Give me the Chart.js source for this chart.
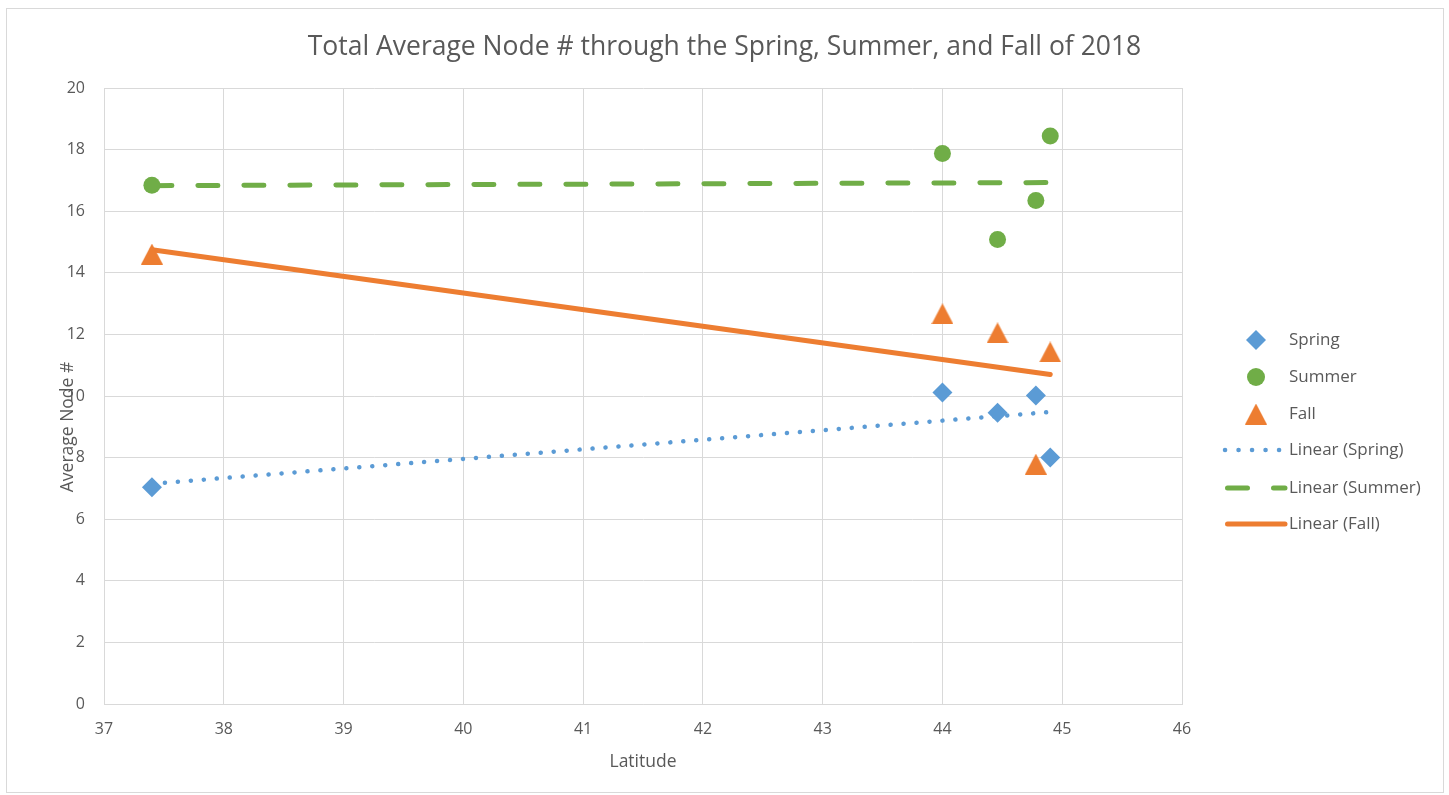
<!DOCTYPE html>
<html>
<head>
<meta charset="utf-8">
<title>Total Average Node #</title>
<script src="https://cdn.jsdelivr.net/npm/chart.js@4/dist/chart.umd.min.js"></script>
<style>
  html, body { margin: 0; padding: 0; background: #ffffff; }
  #wrap { width: 1449px; height: 795px; }
</style>
</head>
<body>
<div id="wrap"><canvas id="chart" width="1449" height="795"></canvas></div>
<script>
// Observations by latitude
const springLat   = [37.4, 44.0, 44.46, 44.78, 44.9];
const springNodes = [7.04, 10.11, 9.46, 10.02, 8.0];
const summerLat   = [37.4, 44.0, 44.46, 44.78, 44.9];
const summerNodes = [16.84, 17.87, 15.08, 16.35, 18.44];
const fallLat     = [37.4, 44.0, 44.46, 44.78, 44.9];
const fallNodes   = [14.61, 12.67, 12.05, 7.79, 11.43];

// Linear trendline end points
const trendLat    = [37.4, 44.9];
const springTrend = [7.15, 9.48];
const summerTrend = [16.83, 16.93];
const fallTrend   = [14.75, 10.70];

// Axis ticks
const xTickValues = [37, 38, 39, 40, 41, 42, 43, 44, 45, 46];
const yTickValues = [0, 2, 4, 6, 8, 10, 12, 14, 16, 18, 20];

const chartTitle = 'Total Average Node # through the Spring, Summer, and Fall of 2018';
const xTitle = 'Latitude';
const yTitle = 'Average Node #';
const legendLabels = ['Spring', 'Summer', 'Fall', 'Linear (Spring)', 'Linear (Summer)', 'Linear (Fall)'];

const BLUE = '#5B9BD5';
const GREEN = '#70AD47';
const ORANGE = '#ED7D31';
const TEXT = '#595959';
const GRID = '#d9d9d9';
const FONT = '"Open Sans", "Noto Sans", sans-serif';

function pairs(xs, ys) { return xs.map((x, i) => ({ x: x, y: ys[i] })); }

// Triangle marker centred on its bounding box
function triangleImage(w, h, color) {
  const c = document.createElement('canvas');
  c.width = w; c.height = h;
  const g = c.getContext('2d');
  g.fillStyle = color;
  g.beginPath();
  g.moveTo(w / 2, 0);
  g.lineTo(w, h);
  g.lineTo(0, h);
  g.closePath();
  g.fill();
  return c;
}
const triMarker = triangleImage(22, 21, ORANGE);

const textPlugin = {
  id: 'chartText',
  afterDraw(chart) {
    const ctx = chart.ctx;
    ctx.save();
    // outer frame
    ctx.strokeStyle = GRID;
    ctx.lineWidth = 1;
    ctx.strokeRect(6.5, 8.5, 1437, 784);

    ctx.fillStyle = TEXT;
    ctx.textAlign = 'center';
    ctx.textBaseline = 'alphabetic';
    ctx.font = '26.5px ' + FONT;
    ctx.fillText(chartTitle, chart.width / 2, 55);

    const area = chart.chartArea;
    ctx.font = '17.5px ' + FONT;
    ctx.textBaseline = 'middle';
    ctx.fillText(xTitle, (area.left + area.right) / 2, 762);

    ctx.save();
    ctx.translate(68, 427);
    ctx.rotate(-Math.PI / 2);
    ctx.fillText(yTitle, 0, 0);
    ctx.restore();

    // legend
    const lx = 1256, tx = 1289;
    const rows = [340, 377, 414, 450, 488, 524];
    ctx.textAlign = 'left';
    ctx.font = '17px ' + FONT;
    legendLabels.forEach((lab, i) => {
      ctx.fillStyle = TEXT;
      ctx.fillText(lab, tx, rows[i]);
    });
    // spring diamond
    ctx.fillStyle = BLUE;
    ctx.beginPath();
    ctx.moveTo(lx, rows[0] - 10); ctx.lineTo(lx + 10, rows[0]);
    ctx.lineTo(lx, rows[0] + 10); ctx.lineTo(lx - 10, rows[0]);
    ctx.closePath(); ctx.fill();
    // summer circle
    ctx.fillStyle = GREEN;
    ctx.beginPath(); ctx.arc(lx, rows[1], 9, 0, Math.PI * 2); ctx.fill();
    // fall triangle
    ctx.drawImage(triMarker, lx - 11, rows[2] - 10.5);
    // trend samples
    ctx.lineCap = 'round';
    ctx.strokeStyle = BLUE; ctx.lineWidth = 4.5; ctx.setLineDash([0.1, 13.4]);
    ctx.beginPath(); ctx.moveTo(1225, rows[3]); ctx.lineTo(1280, rows[3]); ctx.stroke();
    ctx.strokeStyle = GREEN; ctx.lineWidth = 5; ctx.setLineDash([20, 26]);
    ctx.beginPath(); ctx.moveTo(1227.5, rows[4]); ctx.lineTo(1285, rows[4]); ctx.stroke();
    ctx.strokeStyle = ORANGE; ctx.lineWidth = 5; ctx.setLineDash([]);
    ctx.beginPath(); ctx.moveTo(1227.5, rows[5]); ctx.lineTo(1285, rows[5]); ctx.stroke();
    ctx.restore();
  }
};

new Chart(document.getElementById('chart'), {
  type: 'scatter',
  data: {
    datasets: [
      {
        label: 'Linear (Spring)', type: 'line', data: pairs(trendLat, springTrend),
        borderColor: BLUE, borderWidth: 4.5, borderDash: [0.1, 12.9], borderCapStyle: 'round',
        pointRadius: 0, fill: false, order: 2
      },
      {
        label: 'Linear (Summer)', type: 'line', data: pairs(trendLat, summerTrend),
        borderColor: GREEN, borderWidth: 5, borderDash: [20, 26], borderCapStyle: 'round',
        pointRadius: 0, fill: false, order: 2
      },
      {
        label: 'Linear (Fall)', type: 'line', data: pairs(trendLat, fallTrend),
        borderColor: ORANGE, borderWidth: 5, borderCapStyle: 'round',
        pointRadius: 0, fill: false, order: 2
      },
      {
        label: 'Spring', data: pairs(springLat, springNodes),
        pointStyle: 'rectRot', pointRadius: 10, pointHoverRadius: 10,
        backgroundColor: BLUE, borderColor: BLUE, borderWidth: 0, order: 1
      },
      {
        label: 'Summer', data: pairs(summerLat, summerNodes),
        pointStyle: 'circle', pointRadius: 8.5, pointHoverRadius: 8.5,
        backgroundColor: GREEN, borderColor: GREEN, borderWidth: 0, order: 1
      },
      {
        label: 'Fall', data: pairs(fallLat, fallNodes),
        pointStyle: triMarker, pointRadius: 11,
        backgroundColor: ORANGE, borderColor: ORANGE, borderWidth: 0, order: 1
      }
    ]
  },
  options: {
    responsive: false,
    animation: false,
    devicePixelRatio: 1,
    layout: { padding: { left: 44, right: 267, top: 88, bottom: 51 } },
    plugins: {
      legend: { display: false },
      title: { display: false },
      tooltip: { enabled: false }
    },
    scales: {
      x: {
        type: 'linear', min: 37, max: 46,
        afterBuildTicks: s => { s.ticks = xTickValues.map(v => ({ value: v })); },
        afterFit: s => { s.height = 40; },
        grid: { color: GRID, lineWidth: 1, drawTicks: false },
        border: { color: GRID },
        ticks: { color: TEXT, font: { family: FONT, size: 16 }, padding: 16 }
      },
      y: {
        type: 'linear', min: 0, max: 20,
        afterBuildTicks: s => { s.ticks = yTickValues.map(v => ({ value: v })); },
        afterFit: s => { s.width = 60; },
        grid: { color: GRID, lineWidth: 1, drawTicks: false },
        border: { color: GRID },
        ticks: { color: TEXT, font: { family: FONT, size: 16 }, padding: 19 }
      }
    }
  },
  plugins: [textPlugin]
});
</script>
</body>
</html>
